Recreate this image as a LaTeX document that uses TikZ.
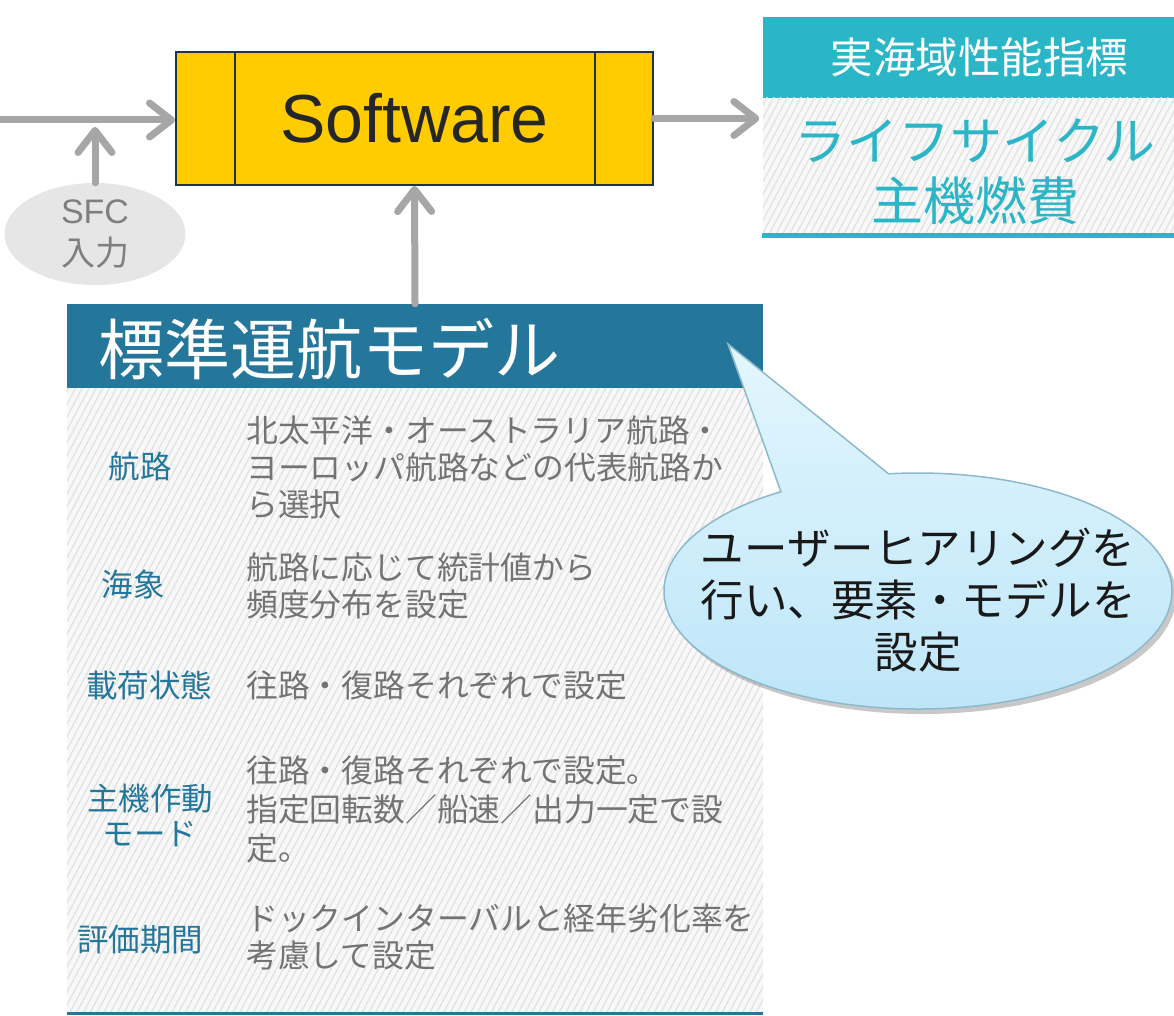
\documentclass[tikz,border=0pt]{standalone}
\usepackage{fontspec}
\setmainfont{Liberation Sans}
\newfontfamily\jp{Noto Sans CJK JP}
\usetikzlibrary{arrows.meta,shapes.geometric,shapes.callouts,patterns.meta,shadows}
\definecolor{yel}{HTML}{FFCC00}
\definecolor{navy}{HTML}{1F3345}
\definecolor{tealc}{HTML}{2BB6C8}
\definecolor{blueh}{HTML}{24769A}
\definecolor{descg}{HTML}{737373}
\definecolor{arrg}{HTML}{A6A6A6}
\definecolor{sfcfill}{HTML}{E6E6E6}
\definecolor{sfctext}{HTML}{7F7F7F}
\definecolor{hatchbg}{HTML}{F8F8F8}
\definecolor{hatchln}{HTML}{E2E2E2}
\definecolor{cotop}{HTML}{E3F6FD}
\definecolor{cobot}{HTML}{BCE5F8}
\definecolor{coborder}{HTML}{8DB9CD}
\newcommand\myfs[2]{\fontsize{#1}{#2}\selectfont}
\begin{document}
\begin{tikzpicture}[x=1pt,y=-1pt,
  garrow/.style={draw=arrg, line width=7pt, line cap=round,
    -{Straight Barb[length=22pt,width=34pt,line cap=round,line join=round]}},
  hatch/.style={preaction={fill=hatchbg}, pattern={Lines[angle=62,distance=6pt,line width=1.3pt]}, pattern color=hatchln},
  lab/.style={text=blueh, font=\jp\myfs{31.5}{35}, align=center, inner sep=0},
  desc/.style={text=descg, font=\jp\myfs{31.8}{37}, align=left, anchor=west, inner sep=0},
]
\useasboundingbox (0,0) rectangle (1174,1016);
\fill[white] (0,0) rectangle (1174,1016);

% Software box
\node[draw=navy, line width=2pt, fill=yel, minimum width=477pt, minimum height=133pt, inner sep=0,
  text=black!85, font=\myfs{68}{80}] (sw) at (414.5,118.5) {Software};
\draw[navy, line width=2pt] ([xshift=60pt]sw.north west) -- ([xshift=60pt]sw.south west);
\draw[navy, line width=2pt] ([xshift=-59pt]sw.north east) -- ([xshift=-59pt]sw.south east);

% right boxes
\node[fill=tealc, minimum width=411pt, minimum height=81pt, inner sep=0,
  text=white, font=\jp\myfs{42.5}{48}] (kpi) at (968.5,57.5) {\hspace*{22pt}実海域性能指標};
\node[hatch, minimum width=411pt, minimum height=137pt, inner sep=0] (lc) at (968.5,166.5) {};
\draw[tealc, line width=5pt] (lc.south west) -- (lc.south east);
\node[text=tealc, font=\jp\myfs{52}{60}, align=center, inner sep=0] (lctext) at (975,172)
  {ライフサイクル\\主機燃費};

% SFC input
\node[ellipse, fill=sfcfill, minimum width=181pt, minimum height=102pt, inner sep=0,
  text=sfctext, font=\myfs{34}{42}, align=center] (sfc) at (95,234) {SFC\\{\jp 入力}};
\coordinate (lin) at (0,120);
\coordinate (sfctip) at (95,127);

% model header and body
\node[fill=blueh, minimum width=696pt, minimum height=84pt, inner sep=0] (hdr) at (415,346) {};
\node[text=white, font=\jp\myfs{66}{72}, anchor=west, inner sep=0] (hdrtext) at (98,349) {標準運航モデル};
\node[hatch, minimum width=696pt, minimum height=625pt, inner sep=0] (body) at (415,700.5) {};
\draw[blueh, line width=3pt] (body.south west) -- (body.south east);

% rows
\node[lab] (l1) at (140,467) {航路};
\node[desc] (d1) at (246,467) {北太平洋・オーストラリア航路・\\ヨーロッパ航路などの代表航路か\\ら選択};
\node[lab] (l2) at (133,585) {海象};
\node[desc] (d2) at (246,586) {航路に応じて統計値から\\頻度分布を設定};
\node[lab] (l3) at (149,685) {載荷状態};
\node[desc] (d3) at (246,685) {往路・復路それぞれで設定};
\node[lab] (l4) at (150,815) {主機作動\\モード};
\node[desc, font=\jp\myfs{31.8}{39}] (d4) at (246,809) {往路・復路それぞれで設定。\\指定回転数／船速／出力一定で設\\定。};
\node[lab] (l5) at (140,940) {評価期間};
\node[desc] (d5) at (246,937) {ドックインターバルと経年劣化率を\\考慮して設定};

% arrows
\draw[garrow] (lin) -- (lin -| sw.west);
\draw[garrow] (sfc.north) -- (sfctip);
\draw[garrow] (hdr.north) -- (sw.south);
\draw[garrow, shorten >=3pt] (sw.east) -- (sw.east -| lc.west);

% callout
\coordinate (cotip) at (728,344);
\node[ellipse callout, callout absolute pointer=(cotip), callout pointer arc=26,
  minimum width=508pt, minimum height=236pt, inner sep=0,
  top color=cotop, bottom color=cobot, draw=coborder, line width=1.5pt,
  drop shadow={shadow xshift=4pt, shadow yshift=-5pt, opacity=0.3, fill=black!70}] (co) at (918,591) {};
\node[text=black!90, font=\jp\myfs{43.5}{52}, align=center, inner sep=0] (cotext) at (918,600)
  {ユーザーヒアリングを\\行い、要素・モデルを\\設定};
\end{tikzpicture}
\end{document}
